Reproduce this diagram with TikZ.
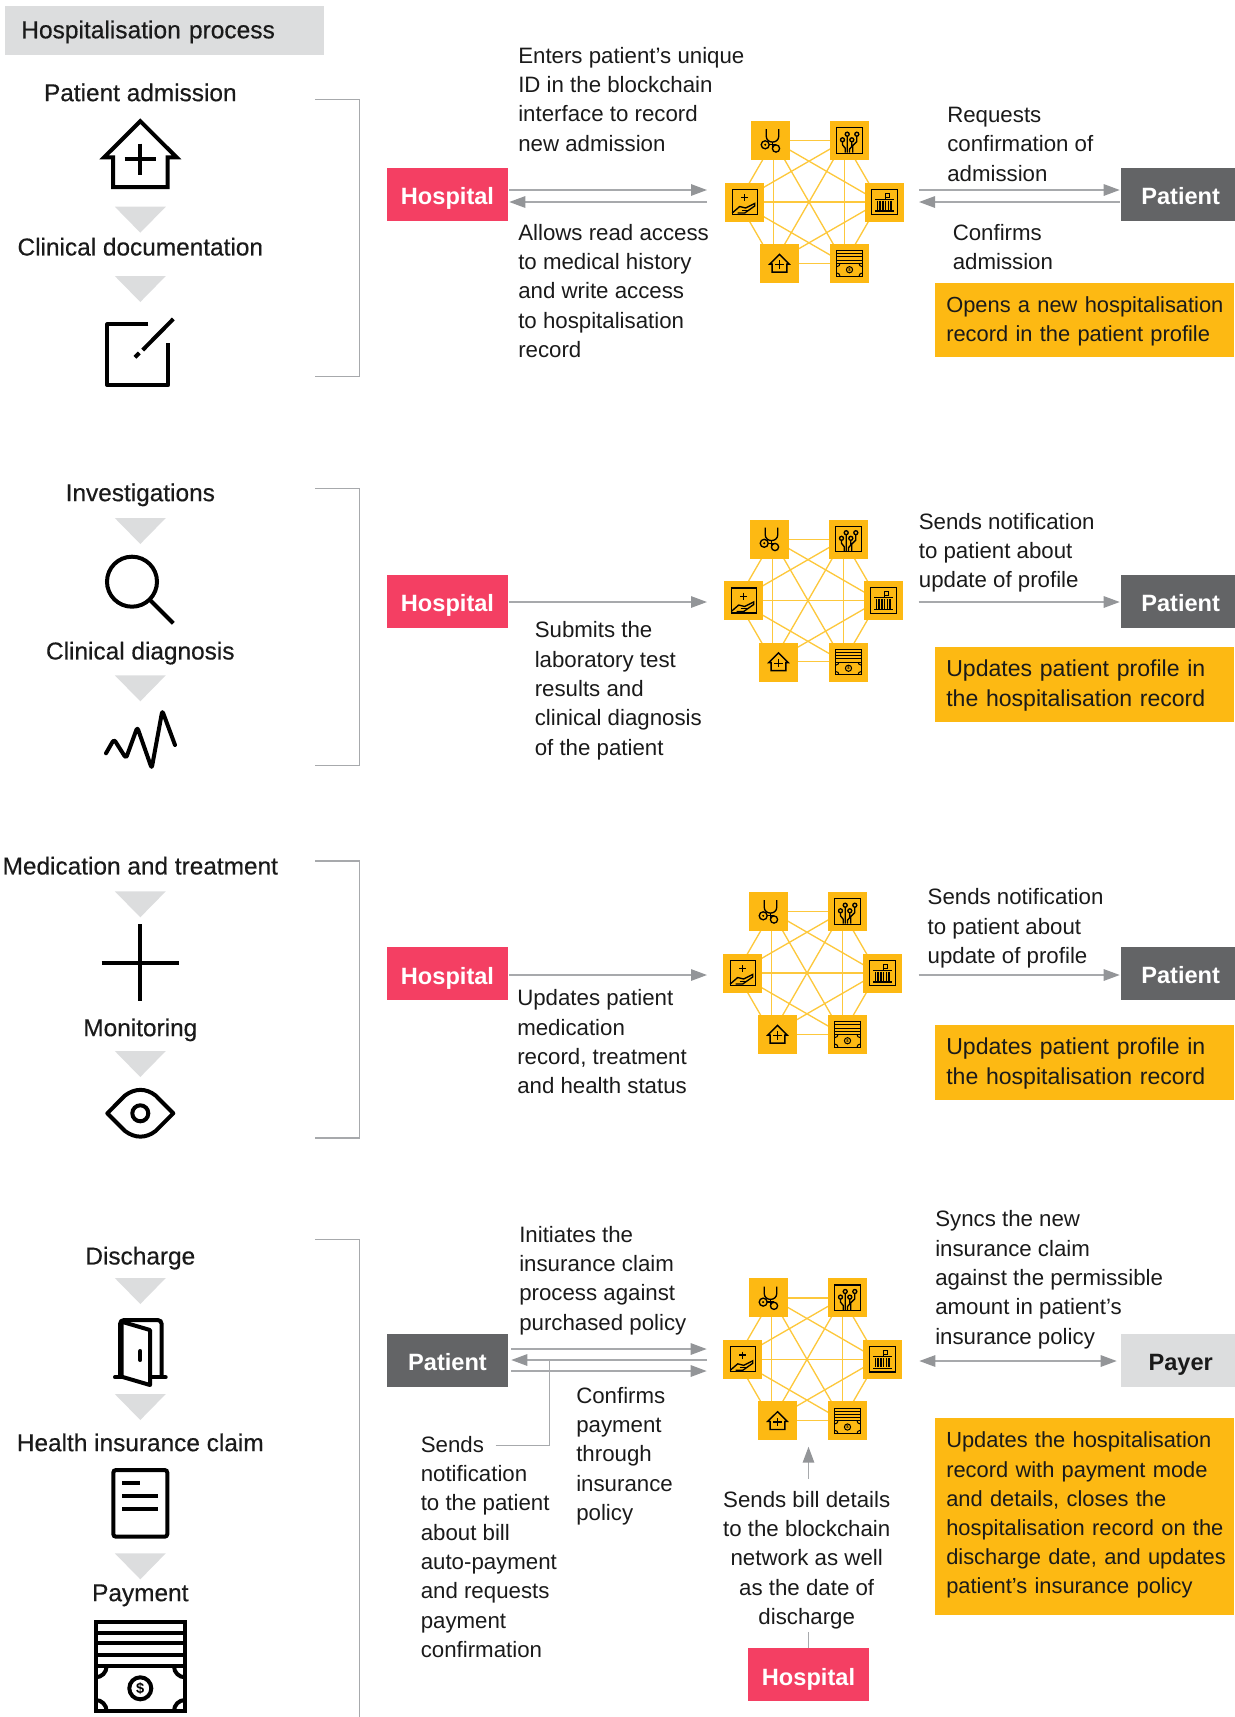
\documentclass[tikz,border=0pt]{standalone}
\usepackage{fontspec}
\setmainfont{Liberation Sans}
\newfontfamily\medf[FakeBold=0.45]{Liberation Sans}
\usetikzlibrary{arrows.meta}
\definecolor{ink}{HTML}{1A1A1A}
\definecolor{lg}{HTML}{DCDDDE}
\definecolor{dg}{HTML}{636466}
\definecolor{pk}{HTML}{F43F63}
\definecolor{yl}{HTML}{FDB913}
\definecolor{ylln}{HTML}{FDC83C}
\definecolor{agrey}{HTML}{939598}
\definecolor{lgrey}{HTML}{A7A9AC}
\newcommand{\ytop}[1]{\rule{0pt}{#1}}
\newcommand{\ybot}[1]{\rule[-#1]{0pt}{0pt}}
\tikzset{
 bodyt/.style={anchor=north west,inner sep=0pt,align=left,text=ink,font=\fontsize{16.7}{22}\selectfont,yshift=12.1pt,execute at begin node=\strut},
 bodyc/.style={bodyt,anchor=north,align=center},
 lab/.style={anchor=base,inner sep=0pt,text=ink,yshift=.4pt,font=\medf\fontsize{18.3}{22}\selectfont},
 actor/.style={minimum height=39.75pt,inner sep=0pt,text height=15.8pt,text depth=0pt,font=\bfseries\fontsize{17.7}{20}\selectfont},
 hosp/.style={actor,fill=pk,text=white,minimum width=90.75pt},
 pat/.style={actor,fill=dg,text=white,minimum width=85.5pt,text height=15.3pt},
 patl/.style={actor,fill=dg,text=white,minimum width=90.75pt,text height=15.3pt},
 payer/.style={actor,fill=lg,text=ink,minimum width=85.5pt,text height=15.3pt},
 ybox/.style={anchor=north west,fill=yl,text=ink,inner xsep=8.25pt,inner ysep=4.9pt,text width=207.75pt,align=left,font=\fontsize{16.4}{21.9}\selectfont},
 ybig/.style={ybox,font=\fontsize{17.3}{23}\selectfont},
 arr/.style={draw=lgrey,line width=1.1pt,-{Triangle[length=12pt,width=8.6pt,fill=agrey,color=agrey]}},
 darr/.style={draw=lgrey,line width=1.1pt,{Triangle[length=12pt,width=8.6pt,fill=agrey,color=agrey]}-{Triangle[length=12pt,width=8.6pt,fill=agrey,color=agrey]}},
 con/.style={draw=lgrey,line width=1.1pt},
 brk/.style={draw=lgrey,line width=1pt},
 ico/.style={line width=3pt,draw=black},
 icoS/.style={line width=1pt,draw=black},
 icoT/.style={line width=.75pt,draw=black},
 sq/.style={fill=yl,minimum size=29.25pt,inner sep=0pt},
 pics/tridown/.style={code={\fill[lg] (-25.5,0)--(25.5,0)--(0,26)--cycle;}},
 pics/housei/.style={code={
   \draw[line join=miter] (0,-33.8)--(-36.2,2.3)--(-27.3,2.3)--(-27.3,32)--(27.3,32)--(27.3,2.3)--(36.2,2.3)--cycle;
   \draw (-15.6,4.3)--(15.6,4.3) (0,-11.3)--(0,19.9);}},
 pics/cashi/.style={code={
   \begin{scope}
   \clip (-44.7,0) rectangle (44.7,44.7);
   \draw (-44.7,0) circle (11) (44.7,0) circle (11) (-44.7,44.7) circle (11) (44.7,44.7) circle (11);
   \end{scope}
   \draw (-44.7,-44.7) rectangle (44.7,44.7);
   \draw (-44.7,-33.7)--(44.7,-33.7) (-44.7,-23)--(44.7,-23) (-44.7,-11.3)--(44.7,-11.3) (-44.7,0)--(44.7,0);
   \draw (0,22) circle (11);
   \node[transform shape,inner sep=0pt,font=\bfseries\fontsize{11}{11}\selectfont,text=black] (-d) at (0,22) {\$};}},
 pics/stethi/.style={code={
   \draw (-4.3,-11.3)--(-4.3,-4.5) .. controls (-4.3,3.6) and (8.3,3.6) .. (8.3,-4.5)--(8.3,-11.3);
   \draw (2,1.6)--(2,8);
   \draw (-1.3,4.3)--(5,4.3);
   \draw (-5.3,4.3) circle (4) (5.5,8) circle (3.6);
   \fill[black] (-5.3,4.3) circle (1.1);}},
 pics/circuiti/.style={code={
   \draw (-12.7,-12.7) rectangle (12.7,12.7);
   \draw (-2.3,-4.3)--(-2.3,12) (7.3,-4.3)--(7.3,1)--(3.3,5)--(3.3,12) (-7,1.3)--(-7,4.3)--(-4.3,7.7)--(-4.3,12) (2.3,1.3)--(2.3,6)--(0,8.7)--(0,12);
   \draw (-2.3,-6.3) circle (2) (7.3,-6.3) circle (2) (-7,-0.7) circle (2) (2.3,-0.7) circle (2);}},
 pics/handi/.style={code={
   \draw (-12.5,-12.5) rectangle (12.5,12.5);
   \draw (-3.5,-4.3)--(3.5,-4.3) (0,-7.8)--(0,-0.8);
   \draw (-12.5,11)--(-5,4.5)--(1,6)--(10,1.5)--(10,4)--(0,11)--(-7,11);
   \draw (-3,8.2)--(3,8.2);}},
 pics/banki/.style={code={
   \draw (-12.7,-12.7) rectangle (12.7,12.7);
   \draw (-9.5,-2.7)--(9.5,-2.7) (-9.5,9)--(9.5,9);
   \foreach \q in {-7,-4.5,-1.5,1,4,6.5} {\draw (\q,-1.5)--(\q,8);}
   \draw (0.7,-8.7) rectangle (4.7,-4.7);
   \draw (0.7,-8.7)--(0.7,-2.7);}},
 pics/chain/.style={code={
   \coordinate (-vs) at (-35.3,-61.2);
   \coordinate (-vc) at (35.3,-61.2);
   \coordinate (-vh) at (-70.7,0);
   \coordinate (-vb) at (70.7,0);
   \coordinate (-vo) at (-35.3,61.2);
   \coordinate (-vk) at (35.3,61.2);
   \foreach \u/\w in {s/c,s/h,s/b,s/o,s/k,c/h,c/b,c/o,c/k,h/b,h/o,h/k,b/o,b/k,o/k}
     {\draw[ylln,line width=1pt] (-v\u) -- (-v\w);}
   \node[sq] (-s) at (-38.5,-61.5) {};
   \node[sq] (-c) at (40.5,-61.5) {};
   \node[sq] (-h) at (-64.3,0) {};
   \node[sq] (-b) at (75.5,0) {};
   \node[sq] (-o) at (-29.5,61.5) {};
   \node[sq] (-k) at (40.5,61.5) {};
   \pic[icoS] at (-38.5,-61.5) {stethi};
   \pic[icoS] at (40.5,-61.5) {circuiti};
   \pic[icoS] at (-64.3,0) {handi};
   \pic[icoS] at (75.5,0) {banki};
   \pic[icoS,scale=.27] at (-29.5,61.5) {housei};
   \pic[icoT,scale=.283] at (40.5,61.5) {cashi};}}
}
\begin{document}
\begin{tikzpicture}[x=0.75pt,y=-0.75pt]
\useasboundingbox (0,0) rectangle (1235,1717);
% header
\node[fill=lg,anchor=west,minimum height=36.75pt,inner ysep=0pt,inner xsep=12pt,text width=215.25pt,align=left,text height=11.7pt,text depth=0pt,text=ink,font=\medf\fontsize{18.4}{22}\selectfont] (hdr) at (5,30.5) {Hospitalisation process};
% brackets
\draw[brk] (315,99.5)--(359.3,99.5)--(359.3,376.7)--(315,376.7);
\draw[brk] (315,488.3)--(359.3,488.3)--(359.3,765.3)--(315,765.3);
\draw[brk] (315,861)--(359.3,861)--(359.3,1138)--(315,1138);
\draw[brk] (315,1239.5)--(359.3,1239.5)--(359.3,1717);
% left labels
\node[lab] (l1) at (140.3,101.7) {Patient admission};
\node[lab] (l2) at (140.3,256) {Clinical documentation};
\node[lab] (l3) at (140.3,501.7) {Investigations};
\node[lab] (l4) at (140.3,660) {Clinical diagnosis};
\node[lab] (l5) at (140.3,875) {Medication and treatment};
\node[lab] (l6) at (140.3,1036.7) {Monitoring};
\node[lab] (l7) at (140.3,1265) {Discharge};
\node[lab] (l8) at (140.3,1451.7) {Health insurance claim};
\node[lab] (l9) at (140.3,1601.7) {Payment};
% triangles
\foreach \ty in {206.7,276,518,675.3,891.3,1051,1278,1394,1553.3} {\pic at (140.3,\ty) {tridown};}
% left icons
\pic[ico] at (140.3,155) {housei};
\draw[ico,line join=round] (148.3,324.3)--(107.3,324.3)--(107.3,385)--(168.3,385)--(168.3,343.3);
\draw[ico] (173.3,319)--(142.7,350) (139.3,353)--(135,357.3);
\draw[ico] (132,581.7) circle (25);
\draw[ico] (150,600)--(173.3,623.3);
\draw[ico,line cap=round,line join=round,rounded corners=2pt] (106,753.3)--(114,739.3)--(126,758.3)--(137.3,727.3)--(151.7,768.3)--(162.3,710.7)--(175,745);
\draw[ico] (140.3,924)--(140.3,1001) (101.7,962.7)--(179,962.7);
\draw[ico,line join=round] (107.3,1113.3) -- (125,1095.5) .. controls (135,1088) and (146,1088) .. (155.6,1095.5) -- (173.3,1113.3) -- (155.6,1131) .. controls (146,1138.5) and (135,1138.5) .. (125,1131) -- cycle;
\draw[ico] (140.3,1113.3) circle (8);
\draw[ico,rounded corners=3pt] (120,1377.3)--(120,1320)--(161.7,1320)--(161.7,1377.3);
\draw[ico,line cap=round] (115,1377.3)--(165.7,1377.3);
\draw[ico,line join=round,fill=white] (121.7,1321.7)--(150,1330)--(150,1385)--(121.7,1376.7)--cycle;
\draw[ico,line cap=round] (140.3,1351)--(140.3,1360);
\draw[ico,rounded corners=2pt] (113.3,1470) rectangle (167.3,1536.7);
\draw[ico] (122.3,1483.3)--(140,1483.3) (122.3,1496.3)--(158.3,1496.3) (122.3,1509.3)--(158.3,1509.3);
\pic[ico] at (140.3,1666.3) {cashi};
% networks
\pic (n1) at (809,202) {chain};
\pic (n2) at (808,600.5) {chain};
\pic (n3) at (807,973) {chain};
\pic (n4) at (807,1359.3) {chain};
% row 1
\node[hosp] (h1) at (447.5,194) {Hospital};
\node[pat] (p1) at (1178,194) {\hspace*{4pt}Patient};
\coordinate (a1) at (707,190);
\coordinate (a2) at (707,202);
\coordinate (a3) at (919,190);
\coordinate (a4) at (919,202);
\draw[arr] ([shift={(1,-4)}]h1.east) -- (a1);
\draw[arr] (a2) -- ([shift={(1,8)}]h1.east);
\draw[arr] (a3) -- ([shift={(-1,-4)}]p1.west);
\draw[arr] ([shift={(-1,8)}]p1.west) -- (a4);
\node[bodyt] (t1) at (518,63) {Enters patient’s unique\\ID in the blockchain\\interface to record\\new admission};
\node[bodyt] (t2) at (518,240) {Allows read access\\to medical history\\and write access\\to hospitalisation\\record};
\node[bodyt] (t3) at (947,123) {Requests\\confirmation of\\admission};
\node[bodyt] (t4) at (952.5,240) {Confirms\\admission};
\node[ybox] (y1) at (935,282.5) {\ytop{17.3pt}\mbox{Opens a new hospitalisation}\\\mbox{record in the patient profile}\ybot{6.87pt}};
% row 2
\node[hosp] (h2) at (447.5,601) {Hospital};
\node[pat] (p2) at (1178,601) {\hspace*{4pt}Patient};
\coordinate (b1) at (707,602);
\coordinate (b2) at (918.6,602);
\draw[arr] ([shift={(1,1)}]h2.east) -- (b1);
\draw[arr] (b2) -- ([shift={(-1,1)}]p2.west);
\node[bodyt] (t5) at (534.5,637.6) {Submits the\\laboratory test\\results and\\clinical diagnosis\\of the patient};
\node[bodyt] (t6) at (918.6,529) {Sends notification\\to patient about\\update of profile};
\node[ybig] (y2) at (935,647) {\ytop{16.85pt}\mbox{Updates patient profile in}\\\mbox{the hospitalisation record}\ybot{6.25pt}};
% row 3
\node[hosp] (h3) at (447.5,973.5) {Hospital};
\node[pat] (p3) at (1178,973.5) {\hspace*{4pt}Patient};
\coordinate (c1) at (707,975);
\coordinate (c2) at (918.6,975);
\draw[arr] ([shift={(1,1.5)}]h3.east) -- (c1);
\draw[arr] (c2) -- ([shift={(-1,1.5)}]p3.west);
\node[bodyt] (t7) at (517,1005.5) {Updates patient\\medication\\record, treatment\\and health status};
\node[bodyt] (t8) at (927.4,904.7) {Sends notification\\to patient about\\update of profile};
\node[ybig] (y3) at (935,1025) {\ytop{16.85pt}\mbox{Updates patient profile in}\\\mbox{the hospitalisation record}\ybot{6.25pt}};
% row 4
\node[patl] (p4) at (447.5,1360) {Patient};
\node[payer] (py) at (1178,1360) {\hspace*{4pt}Payer};
\node[hosp] (h4) at (808.5,1674.5) {Hospital};
\coordinate (d1) at (706.7,1349);
\coordinate (d2) at (707,1360);
\coordinate (d3) at (706.7,1371);
\coordinate (d4) at (919.3,1361);
\coordinate (d5) at (495.7,1445.7);
\coordinate (d6) at (549.3,1360);
\coordinate (d7) at (808.5,1478.7);
\coordinate (d8) at (808.5,1446.7);
\coordinate (d9) at (808.5,1632);
\draw[arr] ([shift={(3,-11)}]p4.east) -- (d1);
\draw[arr] (d2) -- ([xshift=2.25pt]p4.east);
\draw[arr] ([shift={(3,11)}]p4.east) -- (d3);
\draw[con] (d5) -| (d6);
\draw[darr] (d4) -- ([shift={(-4,1)}]py.west);
\draw[arr] (d7) -- (d8);
\draw[con] (h4.north) -- (d9);
\node[bodyt] (t9) at (519,1242) {Initiates the\\insurance claim\\process against\\purchased policy};
\node[bodyt] (t10) at (576,1403) {Confirms\\payment\\through\\insurance\\policy};
\node[bodyt] (t11) at (420.5,1452) {Sends\\notification\\to the patient\\about bill\\auto-payment\\and requests\\payment\\confirmation};
\node[bodyc] (t12) at (806.7,1507) {Sends bill details\\to the blockchain\\network as well\\as the date of\\discharge};
\node[bodyt] (t13) at (935,1226.6) {Syncs the new\\insurance claim\\against the permissible\\amount in patient’s\\insurance policy};
\node[ybox] (y4) at (935,1418) {\ytop{17.3pt}\mbox{Updates the hospitalisation}\\\mbox{record with payment mode}\\\mbox{and details, closes the}\\\mbox{hospitalisation record on the}\\\mbox{discharge date, and updates}\\\mbox{patient’s insurance policy}\ybot{11.15pt}};
\end{tikzpicture}
\end{document}
